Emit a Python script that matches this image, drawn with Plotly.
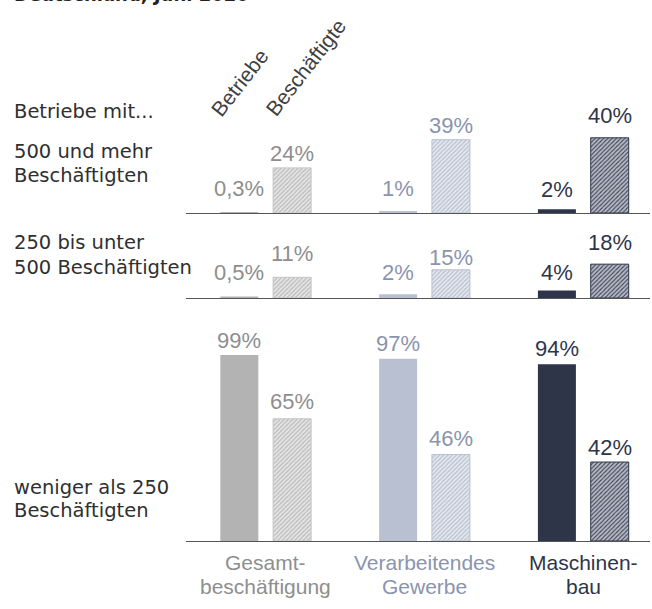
import plotly.graph_objects as go

W, H = 652, 609

# ---------------- data ----------------
categories = ["Gesamtbeschäftigung", "Verarbeitendes Gewerbe", "Maschinenbau"]
category_lines = [["Gesamt-", "beschäftigung"], ["Verarbeitendes", "Gewerbe"], ["Maschinen-", "bau"]]
size_class_lines = [["500 und mehr", "Beschäftigten"],
                    ["250 bis unter", "500 Beschäftigten"],
                    ["weniger als 250", "Beschäftigten"]]
measures = ["Betriebe", "Beschäftigte"]
header_text = "Betriebe mit..."
title_text = "Deutschland, Juni 2020"

# shares in %, one list per size class, ordered like `categories`
betriebe = [[0.3, 1, 2], [0.5, 2, 4], [99, 97, 94]]
beschaeftigte = [[24, 39, 40], [11, 15, 18], [65, 46, 42]]

# ---------------- styles ----------------
solid_colors = ["#b3b3b3", "#b9c0d1", "#2e3549"]
hatch_bg = ["#e8e8e8", "#e8ebf1", "#b8bbc4"]
hatch_fg = ["#bcbcbc", "#bac1d1", "#3a4156"]
hatch_solidity = [0.45, 0.45, 0.35]
hatch_line = ["#c4c4c4", "#b9c0d1", "#2e3549"]
label_colors = ["#8e8e8e", "#8a94ad", "#2e3549"]
text_dark = "#2f2f2f"

# label lift above bar top (px, baseline)
betr_lift = [[16.4, 15.1, 12.2], [17.1, 14.2, 10.5], [6.6, 6.9, 7.6]]
besch_lift = [[6.9, 6.7, 14.5], [15.6, 4.8, 14.2], [9.5, 8.5, 7.0]]

PX = 1.88                      # px per percentage point
baselines = [213, 298, 541]    # px from top
row_tops = [50, 30, 105]       # y-range top per row
x_left, x_right = 186, 650
x_range = [-0.502, 2.42]
upx = (x_right - x_left) / (x_range[1] - x_range[0])
bar_w = 38 / upx
half_gap = 26.4 / upx

def fmt(v):
    return f"{v:g}".replace(".", ",") + "%"

fig = go.Figure()
annotations = []
xs = list(range(len(categories)))

for r in range(3):
    xa = "x" if r == 0 else f"x{r+1}"
    ya = "y" if r == 0 else f"y{r+1}"
    fig.add_trace(go.Bar(
        x=xs, y=betriebe[r], xaxis=xa, yaxis=ya,
        width=bar_w, offset=-half_gap - bar_w / 2,
        marker=dict(color=solid_colors, line=dict(width=0)),
        name=measures[0], showlegend=False, hoverinfo="skip"))
    for i in xs:
        fig.add_trace(go.Bar(
            x=[i], y=[beschaeftigte[r][i]], xaxis=xa, yaxis=ya,
            width=bar_w, offset=half_gap - bar_w / 2,
            marker=dict(color=hatch_bg[i],
                        line=dict(width=1, color=hatch_line[i]),
                        pattern=dict(shape="/", fgcolor=hatch_fg[i], fgopacity=1,
                                     size=3, solidity=hatch_solidity[i], fillmode="overlay")),
            name=measures[1], showlegend=False, hoverinfo="skip"))
    for i in xs:
        for vals, lifts, off in ((betriebe, betr_lift, -half_gap),
                                 (beschaeftigte, besch_lift, half_gap)):
            annotations.append(dict(
                x=i + off, y=vals[r][i], xref=xa, yref=ya,
                text=fmt(vals[r][i]), showarrow=False,
                xanchor="center", yanchor="middle",
                yshift=lifts[r][i] + 7.9,
                font=dict(family="Liberation Sans, Arial", size=22, color=label_colors[i])))

    bottom = (H - baselines[r]) / H
    top = (H - (baselines[r] - PX * row_tops[r])) / H
    xkey = "xaxis" if r == 0 else f"xaxis{r+1}"
    ykey = "yaxis" if r == 0 else f"yaxis{r+1}"
    fig.update_layout(**{
        xkey: dict(domain=[x_left / W, x_right / W], range=x_range, anchor=ya,
                   showline=True, linecolor="#555555", linewidth=1,
                   showticklabels=False, ticks="", showgrid=False, zeroline=False,
                   fixedrange=True),
        ykey: dict(domain=[bottom, top], range=[0, row_tops[r]], anchor=xa,
                   visible=False, fixedrange=True),
    })

def py(p):
    return (H - p) / H

# left labels
left_font = dict(family="DejaVu Sans", size=19.5, color=text_dark)
annotations.append(dict(x=12 / W, y=py(111.7), xref="paper", yref="paper", text=header_text,
                        showarrow=False, xanchor="left", yanchor="middle", font=left_font))
left_centers = [[151.7, 175], [243, 267], [487, 510]]
for lines, cs in zip(size_class_lines, left_centers):
    for t, c in zip(lines, cs):
        annotations.append(dict(x=12 / W, y=py(c), xref="paper", yref="paper", text=t,
                                showarrow=False, xanchor="left", yanchor="middle",
                                font=left_font))

# rotated measure labels
rot_font = dict(family="Liberation Sans, Arial", size=21, color="#404040")
for t, (cx, cy) in zip(measures, [(240, 83), (305.6, 67.4)]):
    annotations.append(dict(x=cx / W, y=py(cy), xref="paper", yref="paper", text=t,
                            showarrow=False, textangle=-52, xanchor="center", yanchor="middle",
                            font=rot_font))

# category labels
for i, lines in enumerate(category_lines):
    for t, c in zip(lines, [562.5, 586]):
        annotations.append(dict(x=i, y=py(c), xref="x3", yref="paper", text=t,
                                showarrow=False, xanchor="center", yanchor="middle",
                                font=dict(family="Liberation Sans, Arial", size=21,
                                          color=label_colors[i])))

# clipped title
annotations.append(dict(x=12 / W, y=py(-5.0), xref="paper", yref="paper",
                        text=f"<b>{title_text}</b>", showarrow=False,
                        xanchor="left", yanchor="middle",
                        font=dict(family="DejaVu Sans", size=18, color="#222222")))

fig.update_layout(
    width=W, height=H, margin=dict(l=0, r=0, t=0, b=0),
    paper_bgcolor="white", plot_bgcolor="white",
    barmode="overlay", annotations=annotations, showlegend=False,
)

fig.write_html("out.html", config={"displayModeBar": False},
               post_script="document.body.style.margin='0';")
